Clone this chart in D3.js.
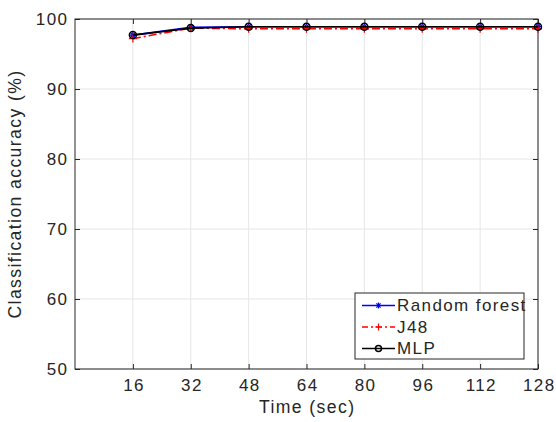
<!DOCTYPE html>
<html>
<head>
<meta charset="utf-8">
<script src="https://cdn.jsdelivr.net/npm/d3@7"></script>
<style>
  html, body { margin: 0; padding: 0; background: #fff; }
  svg text { font-family: "Liberation Sans", Arial, Helvetica, sans-serif; fill: #262626; }
</style>
</head>
<body>
<svg id="chart" width="556" height="422"></svg>
<script>
// Time windows (sec) and accuracy (%) of each classifier
const times = [16, 32, 48, 64, 80, 96, 112, 128];
const randomForest = [97.7, 98.8, 98.9, 98.9, 98.9, 98.9, 98.9, 98.9];
const j48 = [97.2, 98.7, 98.6, 98.6, 98.6, 98.6, 98.6, 98.6];
const mlp = [97.7, 98.7, 98.9, 98.9, 98.9, 98.9, 98.9, 98.9];
const xTicks = [16, 32, 48, 64, 80, 96, 112, 128];
const yTicks = [50, 60, 70, 80, 90, 100];
const seriesNames = ["Random forest", "J48", "MLP"];

const svg = d3.select("#chart");
const m = { left: 75, right: 538, top: 19, bottom: 369 };

const x = d3.scaleLinear().domain([0, 128]).range([m.left, m.right]);
const y = d3.scaleLinear().domain([50, 100]).range([m.bottom, m.top]);

const axisColor = "#262626";
const fs = 17;       // tick and legend font size
const ls = 1.4;      // letter spacing

// grid
const grid = svg.append("g");
grid.selectAll("line.gx").data(xTicks).join("line")
  .attr("x1", d => x(d)).attr("x2", d => x(d))
  .attr("y1", m.top).attr("y2", m.bottom)
  .attr("stroke", "#e6e6e6").attr("stroke-width", 1);
grid.selectAll("line.gy").data(yTicks).join("line")
  .attr("x1", m.left).attr("x2", m.right)
  .attr("y1", d => y(d)).attr("y2", d => y(d))
  .attr("stroke", "#e6e6e6").attr("stroke-width", 1);

// axes with inward ticks
const tickLen = 5;
const xAxis = svg.append("g").attr("transform", `translate(0,${m.bottom})`)
  .call(d3.axisBottom(x).tickValues(xTicks).tickSize(-tickLen).tickPadding(10));
const xAxisTop = svg.append("g").attr("transform", `translate(0,${m.top})`)
  .call(d3.axisTop(x).tickValues(xTicks).tickSize(-tickLen).tickFormat(""));
const yAxis = svg.append("g").attr("transform", `translate(${m.left},0)`)
  .call(d3.axisLeft(y).tickValues(yTicks).tickSize(-tickLen).tickPadding(6.6));
const yAxisRight = svg.append("g").attr("transform", `translate(${m.right},0)`)
  .call(d3.axisRight(y).tickValues(yTicks).tickSize(-tickLen).tickFormat(""));

[xAxis, xAxisTop, yAxis, yAxisRight].forEach(g => {
  g.select(".domain").remove();
  g.selectAll(".tick line").attr("stroke", axisColor).attr("stroke-width", 1);
  g.selectAll(".tick text").attr("font-size", fs).attr("fill", axisColor)
    .attr("letter-spacing", ls)
    .style("font-family", '"Liberation Sans", Arial, sans-serif');
});
xAxis.selectAll(".tick text").attr("dx", ls / 2);

// box
svg.append("rect")
  .attr("x", m.left).attr("y", m.top)
  .attr("width", m.right - m.left).attr("height", m.bottom - m.top)
  .attr("fill", "none").attr("stroke", axisColor).attr("stroke-width", 1);

// axis labels
svg.append("text")
  .attr("x", (m.left + m.right) / 2 + ls / 2).attr("y", 413)
  .attr("text-anchor", "middle").attr("font-size", 17.6).attr("letter-spacing", ls)
  .text("Time (sec)");
svg.append("text")
  .attr("transform", `translate(21,${(m.top + m.bottom) / 2}) rotate(-90)`)
  .attr("text-anchor", "middle").attr("font-size", 17.6).attr("letter-spacing", ls)
  .text("Classification accuracy (%)");

const series = [
  { name: seriesNames[0], values: randomForest, color: "#0000ff", dash: null, marker: "star" },
  { name: seriesNames[1], values: j48, color: "#ff0000", dash: "8,3,2,3", marker: "plus" },
  { name: seriesNames[2], values: mlp, color: "#000000", dash: null, marker: "circle" }
];

function drawMarker(g, type, cx, cy, color, scale = 1) {
  if (type === "circle") {
    g.append("circle").attr("cx", cx).attr("cy", cy).attr("r", 3.5 * scale)
      .attr("fill", "none").attr("stroke", color).attr("stroke-width", 1.5);
  } else if (type === "plus") {
    const s = 4 * scale;
    g.append("path").attr("d", `M${cx - s},${cy}H${cx + s}M${cx},${cy - s}V${cy + s}`)
      .attr("stroke", color).attr("stroke-width", 1.2).attr("fill", "none");
  } else {
    const s = 3.5 * scale, d = s * 0.7;
    g.append("path")
      .attr("d", `M${cx - s},${cy}H${cx + s}M${cx},${cy - s}V${cy + s}M${cx - d},${cy - d}L${cx + d},${cy + d}M${cx - d},${cy + d}L${cx + d},${cy - d}`)
      .attr("stroke", color).attr("stroke-width", 1.2).attr("fill", "none");
  }
}

const line = d3.line().x(d => x(d[0])).y(d => y(d[1]));

series.forEach(s => {
  const pts = times.map((t, i) => [t, s.values[i]]);
  const g = svg.append("g");
  g.append("path").datum(pts).attr("d", line)
    .attr("fill", "none").attr("stroke", s.color).attr("stroke-width", 1.6)
    .attr("stroke-dasharray", s.dash);
  pts.forEach(p => drawMarker(g, s.marker, x(p[0]), y(p[1]), s.color));
});

// legend
const lg = svg.append("g");
lg.append("rect").attr("x", 355).attr("y", 293).attr("width", 169).attr("height", 66)
  .attr("fill", "#fff").attr("stroke", axisColor).attr("stroke-width", 1);
series.forEach((s, i) => {
  const cy = 305.5 + i * 21.5;
  lg.append("line").attr("x1", 362).attr("x2", 395).attr("y1", cy).attr("y2", cy)
    .attr("stroke", s.color).attr("stroke-width", 1.6).attr("stroke-dasharray", s.dash ? "6,3,2,3" : null);
  drawMarker(lg, s.marker, 378.5, cy, s.color, 0.85);
  lg.append("text").attr("x", 397).attr("y", cy + 5.5).attr("font-size", fs)
    .attr("letter-spacing", ls).text(s.name);
});
</script>
</body>
</html>
